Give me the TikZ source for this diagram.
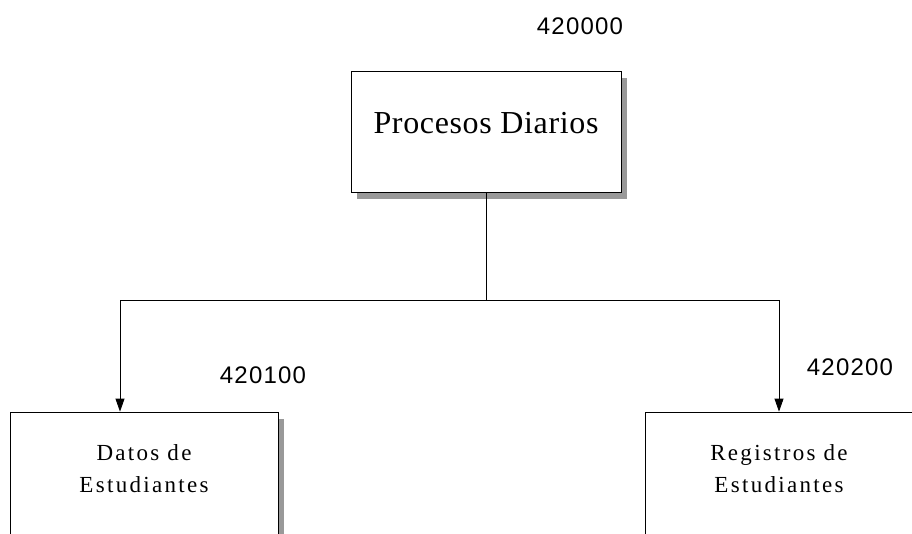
\documentclass[tikz,border=0pt]{standalone}
\usepackage{fontspec}
\setmainfont{Liberation Serif}
\newfontfamily\numfont{Liberation Sans}
\usetikzlibrary{arrows.meta,shadows}

\begin{document}
\begin{tikzpicture}[x=1pt,y=-1pt,
  caja/.style={draw, line width=0.8pt, fill=white, inner sep=0pt, align=center, anchor=base,
    drop shadow={shadow xshift=6pt, shadow yshift=-7pt, fill=black!40, opacity=1}},
  cajachica/.style={caja, minimum width=268pt, text height=80pt, text depth=70pt,
    font=\fontsize{23}{32}\selectfont\addfontfeature{LetterSpace=10}},
  codigo/.style={font=\numfont\fontsize{24}{28}\selectfont\addfontfeature{LetterSpace=5}},
  flecha/.style={-{Triangle[length=13pt,width=9pt]}, line width=0.8pt}]
\useasboundingbox (0,0) rectangle (912,533);
\clip (0,0) rectangle (912,533);
% cajas
\node[caja, minimum width=270pt, text height=62pt, text depth=59pt,
  font=\fontsize{32}{38}\selectfont\addfontfeature{LetterSpace=2}] (procesos) at (486,133) {Procesos Diarios};
\node[cajachica] (datos) at (144,492) {Datos de\\Estudiantes};
\node[cajachica] (registros) at (779,492) {Registros de\\Estudiantes};
% codigos
\node[codigo] (cod-procesos) at (580,26) {420000};
\node[codigo] (cod-datos) at (263,375) {420100};
\node[codigo] (cod-registros) at (850,367) {420200};
% conectores
\draw[line width=0.8pt] (procesos.south) -- ++(0,108) coordinate (rama);
\draw[flecha] (rama) -| ([xshift=-24pt]datos.north);
\draw[flecha] (rama) -| (registros.north);
\end{tikzpicture}
\end{document}
